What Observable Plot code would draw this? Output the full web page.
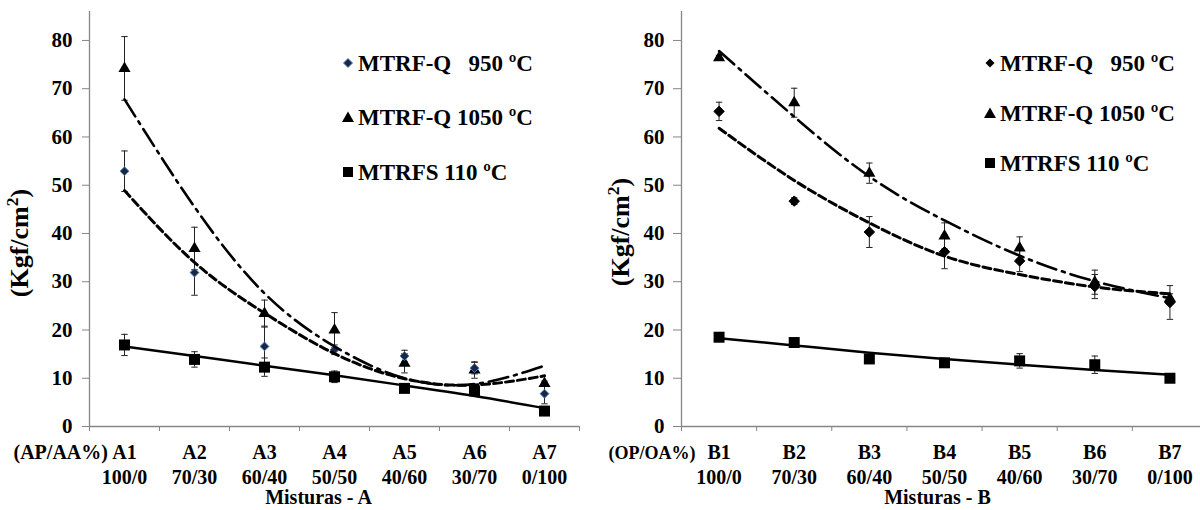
<!DOCTYPE html>
<html><head><meta charset="utf-8">
<script src="https://cdn.jsdelivr.net/npm/d3@7"></script>
<script src="https://cdn.jsdelivr.net/npm/@observablehq/plot@0.6"></script>
<style>
html,body{margin:0;padding:0;background:#fff;overflow:hidden;}
#wrap{position:relative;width:1200px;height:510px;overflow:hidden;background:#fff;}
.panel{position:absolute;top:0;height:510px;}
.lg{position:absolute;font-family:"Liberation Serif","Times New Roman",serif;font-weight:bold;font-size:23px;line-height:23px;white-space:pre;color:#000;}
.lgm{position:absolute;overflow:visible;}
.yt{position:absolute;font-family:"Liberation Serif","Times New Roman",serif;font-weight:bold;font-size:26px;line-height:26px;white-space:nowrap;color:#000;transform:translate(-50%,-50%) rotate(-90deg);}
.yt span{font-size:0.68em;position:relative;top:-0.55em;}
</style></head><body><div id="wrap"></div>
<script>
// ---- categories & tick labels ----
const catsA = ["A1","A2","A3","A4","A5","A6","A7"];
const catsB = ["B1","B2","B3","B4","B5","B6","B7"];
const mixes = ["100/0","70/30","60/40","50/50","40/60","30/70","0/100"];
const yTicks = [0,10,20,30,40,50,60,70,80];
const seriesNames = ["MTRF-Q   950 ºC","MTRF-Q 1050 ºC","MTRFS 110 ºC"];
const yTitle = ["(Kgf/cm", "2", ")"];

// ---- Misturas A ----
const a950 = [52.9, 31.9, 16.6, 15.9, 14.6, 12.1, 6.8];
const a950Err = [4.2, 4.7, 4.2, 1.0, 1.2, 1.2, 2.1];
const a1050 = [74.2, 36.9, 23.4, 20.0, 13.1, 11.7, 8.9];
const a1050Err = [6.6, 4.4, 2.8, 3.6, 2.0, 1.7, 0.5];
const a110 = [16.9, 13.9, 12.3, 10.3, 7.9, 7.4, 3.2];
const a110Err = [2.2, 1.6, 1.9, 1.2, 0.8, 0.8, 0.5];
const a950Trend = [48.9, 34.0, 23.5, 15.1, 9.9, 8.6, 10.5];
const a1050Trend = [67.8, 45.5, 27.6, 16.6, 10.0, 8.8, 12.6];
const a110Trend = [16.6, 14.6, 12.6, 10.6, 8.5, 6.3, 3.8];

// ---- Misturas B ----
const b950 = [65.3, 46.7, 40.3, 36.2, 34.3, 29.0, 25.7];
const b950Err = [1.9, 0.7, 3.2, 3.5, 2.2, 2.5, 3.5];
const b1050 = [76.4, 67.1, 52.5, 39.5, 37.0, 29.9, 26.5];
const b1050Err = [0.5, 3.0, 2.1, 2.7, 2.3, 2.5, 1.0];
const b110 = [18.5, 17.4, 14.0, 13.2, 13.6, 12.8, 10.0];
const b110Err = [0.8, 0.7, 0.8, 0.6, 1.5, 1.8, 0.6];
const b950Trend = [61.8, 51.0, 42.2, 35.3, 31.5, 28.9, 27.5];
const b1050Trend = [77.8, 64.2, 51.8, 42.7, 35.4, 30.1, 26.6];
const b110Trend = [18.3, 16.8, 15.3, 14.0, 12.8, 11.7, 10.7];

const capSymbol = {draw(ctx, size){const w = Math.sqrt(size)/2; ctx.moveTo(-w,0); ctx.lineTo(w,0);}};
const axisGray = "#868686";

function rows(vals, errs){ return vals.map((v,i)=>({i:i+1, v, e:errs ? errs[i] : 0})); }

function panel(o){
  const s950 = rows(o.v950, o.e950), s1050 = rows(o.v1050, o.e1050), s110 = rows(o.v110, o.e110);
  const allErr = [...s950, ...s1050, ...s110].filter(d => d.e > 0);
  const bounds = d3.range(0.5, 8, 1);
  return Plot.plot({
    width: o.width, height: 510,
    marginLeft: o.marginLeft, marginRight: o.marginRight, marginTop: 11, marginBottom: 84,
    x: {domain: [0.5, 7.5]},
    y: {domain: [0, 86]},
    style: {fontFamily: '"Liberation Serif","Times New Roman",serif', fontWeight: "bold", fontSize: "20px", color: "#000", background: "#fff", overflow: "visible"},
    marks: [
      Plot.ruleX([0.5], {stroke: axisGray, strokeWidth: 1.3}),
      Plot.ruleY([0], {stroke: axisGray, strokeWidth: 1.3}),
      Plot.axisY({ticks: yTicks, tickSize: o.yTickSize, tickPadding: o.yTickPad, stroke: axisGray, fill: "#000", label: null, fontSize: 21}),
      Plot.axisX({ticks: bounds, tickSize: 5, tickFormat: () => "", stroke: axisGray, label: null}),
      // error bars
      Plot.ruleX(allErr, {x: "i", y1: d => d.v - d.e, y2: d => d.v + d.e, stroke: "#222", strokeWidth: 1}),
      Plot.dot(allErr, {x: "i", y: d => d.v + d.e, symbol: capSymbol, r: 3.6, fill: "none", stroke: "#222", strokeWidth: 1}),
      Plot.dot(allErr, {x: "i", y: d => d.v - d.e, symbol: capSymbol, r: 3.6, fill: "none", stroke: "#222", strokeWidth: 1}),
      // markers
      Plot.dot(s110, {x: "i", y: "v", symbol: "square", r: 6.2, fill: "#000"}),
      Plot.dot(s1050, {x: "i", y: "v", symbol: "triangle", r: 4.5, fill: "#000"}),
      Plot.dot(s950, {x: "i", y: "v", symbol: "diamond2", r: o.diamondR, fill: o.diamondFill, stroke: o.diamondStroke, strokeWidth: 1}),
      // trendlines
      Plot.line(rows(o.t110), {x: "i", y: "v", stroke: "#000", strokeWidth: 2.5, curve: "natural"}),
      Plot.line(rows(o.t950), {x: "i", y: "v", stroke: "#000", strokeWidth: 3, strokeDasharray: "8,4", curve: "natural"}),
      Plot.line(rows(o.t1050), {x: "i", y: "v", stroke: "#000", strokeWidth: 2.6, strokeDasharray: "20,6,3,6", curve: "natural"}),
      // category labels
      Plot.text(o.cats, {x: (d,i) => i+1, text: d => d, frameAnchor: "bottom", dy: 32, fontSize: 20}),
      Plot.text(mixes, {x: (d,i) => i+1, text: d => d, frameAnchor: "bottom", dy: 57, fontSize: 20}),
      Plot.text([o.prefix], {text: d => d, frameAnchor: "bottom-left", textAnchor: "start", dx: o.prefixDx, dy: 32, fontSize: o.prefixSize}),
      Plot.text([o.title], {text: d => d, frameAnchor: "bottom", dx: o.titleDx, dy: 77, fontSize: 20})
    ]
  });
}

const wrap = document.getElementById("wrap");
function place(el, left, width){
  const d = document.createElement("div");
  d.className = "panel"; d.style.left = left + "px"; d.style.width = width + "px";
  d.appendChild(el); wrap.appendChild(d);
}

place(panel({
  cats: catsA, v950: a950, e950: a950Err, v1050: a1050, e1050: a1050Err, v110: a110, e110: a110Err,
  t950: a950Trend, t1050: a1050Trend, t110: a110Trend,
  width: 600, marginLeft: 89, marginRight: 21, yTickSize: 7, yTickPad: 10,
  prefix: "(AP/AA%)", prefixSize: 20, prefixDx: -76, title: "Misturas - A", titleDx: -16,
  diamondR: 4.0, diamondFill: "#1b2742", diamondStroke: "#4f81bd"
}), 0, 600);

place(panel({
  cats: catsB, v950: b950, e950: b950Err, v1050: b1050, e1050: b1050Err, v110: b110, e110: b110Err,
  t950: b950Trend, t1050: b1050Trend, t110: b110Trend,
  width: 607, marginLeft: 81, marginRight: 0, yTickSize: 8, yTickPad: 9,
  prefix: "(OP/OA%)", prefixSize: 18, prefixDx: -73, title: "Misturas - B", titleDx: -7,
  diamondR: 4.7, diamondFill: "#000", diamondStroke: "#000"
}), 600, 607);

// ---- y-axis titles (HTML, rotated) ----
function yTitleAt(cx, cy){
  const t = document.createElement("div");
  t.className = "yt";
  t.appendChild(document.createTextNode(yTitle[0]));
  const sup = document.createElement("span"); sup.textContent = yTitle[1]; t.appendChild(sup);
  t.appendChild(document.createTextNode(yTitle[2]));
  t.style.left = cx + "px"; t.style.top = cy + "px";
  wrap.appendChild(t);
}
yTitleAt(21, 243);
yTitleAt(622, 232);

// ---- legends (HTML) ----
function marker(kind, color, stroke){
  const ns = "http://www.w3.org/2000/svg";
  const s = document.createElementNS(ns, "svg");
  s.setAttribute("width", 14); s.setAttribute("height", 14); s.setAttribute("class", "lgm");
  const p = document.createElementNS(ns, "path");
  let dpath;
  if (kind === "diamond") dpath = "M7,2.5 L11.5,7 L7,11.5 L2.5,7 Z";
  else if (kind === "triangle") dpath = "M7,1.5 L13,12 L1,12 Z";
  else dpath = "M2,2 L12,2 L12,12 L2,12 Z";
  p.setAttribute("d", dpath); p.setAttribute("fill", color);
  if (stroke) { p.setAttribute("stroke", stroke); p.setAttribute("stroke-width", 1); }
  s.appendChild(p);
  return s;
}
function legend(mx, tx, ys, diamondColor, diamondStroke){
  const kinds = ["diamond","triangle","square"];
  seriesNames.forEach((name, k) => {
    const m = kinds[k] === "diamond" ? marker("diamond", diamondColor, diamondStroke) : marker(kinds[k], "#000");
    m.style.left = (mx - 7) + "px"; m.style.top = (ys[k] - 7) + "px";
    wrap.appendChild(m);
    const t = document.createElement("div");
    t.className = "lg"; t.textContent = name;
    t.style.left = tx + "px"; t.style.top = (ys[k] - 11.5) + "px";
    wrap.appendChild(t);
  });
}
legend(348, 358, [63, 117, 172], "#1b2742", "#4f81bd");
legend(990, 1000, [63, 113, 163], "#000", null);
</script>
</body></html>
